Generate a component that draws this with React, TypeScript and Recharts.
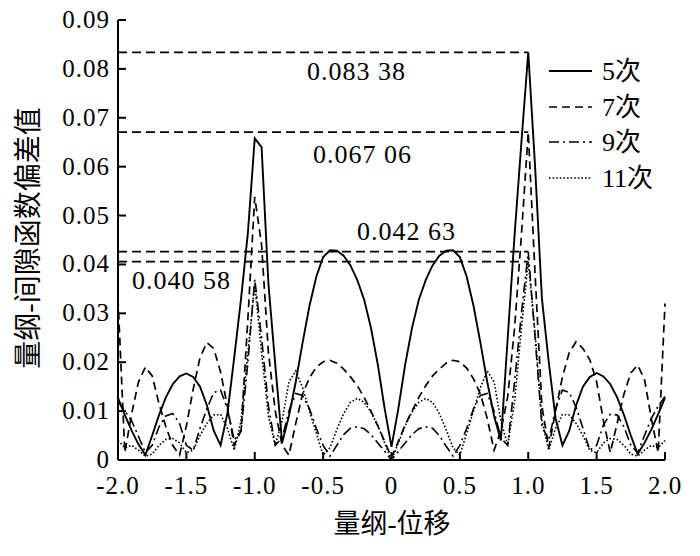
import React from "react";
import { LineChart, Line, XAxis, YAxis, ReferenceLine } from "recharts";

const X = [
  -2.0, -1.95, -1.9, -1.85, -1.8, -1.75, -1.7, -1.65, -1.6, -1.55,
  -1.5, -1.45, -1.4, -1.35, -1.3, -1.25, -1.2, -1.15, -1.1, -1.05,
  -1.0, -0.95, -0.9, -0.85, -0.8, -0.75, -0.7, -0.65, -0.6, -0.55,
  -0.5, -0.45, -0.4, -0.35, -0.3, -0.25, -0.2, -0.15, -0.1, -0.05,
  0.0,
  0.05, 0.1, 0.15, 0.2, 0.25, 0.3, 0.35, 0.4, 0.45, 0.5,
  0.55, 0.6, 0.65, 0.7, 0.75, 0.8, 0.85, 0.9, 0.95, 1.0,
  1.05, 1.1, 1.15, 1.2, 1.25, 1.3, 1.35, 1.4, 1.45, 1.5,
  1.55, 1.6, 1.65, 1.7, 1.75, 1.8, 1.85, 1.9, 1.95, 2.0,
];

const S5 = [
  0.0127, 0.0092, 0.006, 0.0032, 0.001, 0.005, 0.0092, 0.0128, 0.0155, 0.0171,
  0.0177, 0.017, 0.015, 0.0112, 0.006, 0.003, 0.0095, 0.021, 0.033, 0.0465,
  0.0658, 0.064, 0.036, 0.0195, 0.0035, 0.009, 0.016, 0.024, 0.0315, 0.0375,
  0.0415, 0.0429, 0.0428, 0.0418, 0.0398, 0.0368, 0.0328, 0.027, 0.0195, 0.0105,
  0.0027,
  0.0105, 0.0195, 0.027, 0.0328, 0.0368, 0.0398, 0.0418, 0.0428, 0.0429, 0.0415,
  0.0375, 0.0315, 0.024, 0.016, 0.009, 0.004, 0.025, 0.046, 0.065, 0.08338,
  0.06, 0.033, 0.02, 0.0085, 0.003, 0.006, 0.0112, 0.015, 0.017, 0.0178,
  0.0171, 0.0155, 0.0128, 0.0092, 0.005, 0.0012, 0.0035, 0.0062, 0.0094, 0.0127,
];

const S7 = [
  0.033, 0.0015, 0.0095, 0.016, 0.019, 0.0172, 0.0115, 0.0068, 0.003, 0.001,
  0.007, 0.0145, 0.021, 0.024, 0.0228, 0.018, 0.011, 0.003, 0.006, 0.029,
  0.0538, 0.044, 0.022, 0.01, 0.003, 0.001, 0.0075, 0.0135, 0.0168, 0.019,
  0.0201, 0.0204, 0.0198, 0.0186, 0.017, 0.0152, 0.0128, 0.01, 0.007, 0.0038,
  0.0005,
  0.0038, 0.0072, 0.01, 0.0128, 0.0152, 0.0172, 0.0186, 0.0198, 0.0204, 0.0201,
  0.0188, 0.0166, 0.0135, 0.0085, 0.002, 0.006, 0.013, 0.027, 0.046, 0.06706,
  0.038, 0.011, 0.0025, 0.01, 0.017, 0.022, 0.0242, 0.0228, 0.0205, 0.016,
  0.008, 0.0015, 0.0075, 0.0135, 0.0178, 0.0194, 0.0165, 0.0085, 0.0015, 0.032,
];

const S9 = [
  0.012, 0.01, 0.008, 0.0048, 0.0015, 0.003, 0.0068, 0.009, 0.0095, 0.0075,
  0.003, 0.002, 0.0065, 0.0105, 0.0138, 0.0143, 0.0105, 0.004, 0.006, 0.02,
  0.037, 0.025, 0.011, 0.003, 0.0045, 0.01, 0.0136, 0.0132, 0.0105, 0.0065,
  0.003, 0.0008, 0.003, 0.0052, 0.0065, 0.0068, 0.0064, 0.0052, 0.0035, 0.0018,
  0.0,
  0.0018, 0.0035, 0.0052, 0.0064, 0.0068, 0.0065, 0.005, 0.0028, 0.0008, 0.003,
  0.0065, 0.0105, 0.0132, 0.0136, 0.01, 0.0045, 0.003, 0.016, 0.03, 0.04263,
  0.025, 0.007, 0.004, 0.0105, 0.0143, 0.0138, 0.0108, 0.0065, 0.002, 0.003,
  0.0072, 0.0094, 0.0092, 0.0068, 0.003, 0.0015, 0.005, 0.0085, 0.011, 0.013,
];

const S11 = [
  0.004, 0.0025, 0.003, 0.002, 0.0008, 0.0012, 0.003, 0.0042, 0.0044, 0.0035,
  0.0015, 0.002, 0.005, 0.0075, 0.0092, 0.0093, 0.0065, 0.002, 0.008, 0.022,
  0.036, 0.022, 0.009, 0.003, 0.008, 0.016, 0.0182, 0.0148, 0.01, 0.0055,
  0.001, 0.0025, 0.0062, 0.0095, 0.0118, 0.0126, 0.0118, 0.0098, 0.007, 0.0035,
  0.0,
  0.0035, 0.007, 0.0098, 0.0118, 0.0126, 0.0118, 0.0095, 0.0062, 0.0025, 0.001,
  0.0055, 0.01, 0.0148, 0.0182, 0.016, 0.008, 0.003, 0.012, 0.027, 0.04058,
  0.026, 0.008, 0.002, 0.0065, 0.0093, 0.0092, 0.0075, 0.005, 0.002, 0.0015,
  0.0035, 0.0044, 0.0042, 0.003, 0.0012, 0.0008, 0.002, 0.003, 0.0025, 0.004,
];

const X_TICKS = [-2, -1.5, -1, -0.5, 0, 0.5, 1, 1.5, 2];
const X_TICK_LABELS = ["-2.0", "-1.5", "-1.0", "-0.5", "0", "0.5", "1.0", "1.5", "2.0"];
const Y_TICKS = [0, 0.01, 0.02, 0.03, 0.04, 0.05, 0.06, 0.07, 0.08, 0.09];
const Y_TICK_LABELS = ["0", "0.01", "0.02", "0.03", "0.04", "0.05", "0.06", "0.07", "0.08", "0.09"];

const REF_VALUES = [0.08338, 0.06706, 0.04263, 0.04058];
const REF_END_X = 1.0;
const REF_LABELS = ["0.083 38", "0.067 06", "0.042 63", "0.040 58"];
const SERIES_NAMES = ["5次", "7次", "9次", "11次"];

const X_LABEL = "量纲-位移";
const Y_LABEL = "量纲-间隙函数偏差值";

const SERIF = '"Liberation Serif", "Times New Roman", "Noto Sans CJK SC", serif';

const data = X.map((x, i) => ({ x, s5: S5[i], s7: S7[i], s9: S9[i], s11: S11[i] }));

const DASHES = ["", "8 5", "10 4 2 4", "1.6 2"];
const WIDTHS = [1.9, 1.7, 1.6, 1.6];
const KEYS = ["s5", "s7", "s9", "s11"];

const YTick = (props: any) => {
  const { x, y, payload } = props;
  const label = Y_TICK_LABELS[Y_TICKS.indexOf(payload.value)];
  return (
    <g>
      <line x1={x} x2={x + 8} y1={y} y2={y} stroke="#000" strokeWidth={2} />
      <text x={x - 8} y={y + 8} textAnchor="end" fontSize={25} fontFamily={SERIF} fill="#000" letterSpacing={1}>
        {label}
      </text>
    </g>
  );
};

const XTick = (props: any) => {
  const { x, y, payload } = props;
  const label = X_TICK_LABELS[X_TICKS.indexOf(payload.value)];
  return (
    <g>
      <line x1={x} x2={x} y1={y} y2={y - 8} stroke="#000" strokeWidth={2} />
      <text x={x} y={y + 34} textAnchor="middle" fontSize={25} fontFamily={SERIF} fill="#000" letterSpacing={1}>
        {label}
      </text>
    </g>
  );
};

const ANN_POS = [
  { x: 307, y: 80 },
  { x: 313, y: 163 },
  { x: 357, y: 240 },
  { x: 132, y: 289 },
];

const LEG_ROWS = [71, 107, 142, 178];

export default function App() {
  return (
    <div style={{ position: "absolute", left: 0, top: 0, width: 700, height: 556, background: "#fff" }}>
      <LineChart
        width={700}
        height={556}
        data={data}
        margin={{ top: 20, right: 35, bottom: 56, left: 58 }}
      >
        <XAxis
          dataKey="x"
          type="number"
          domain={[-2, 2]}
          ticks={X_TICKS}
          height={40}
          tickSize={0}
          tickMargin={0}
          tickLine={false}
          axisLine={{ stroke: "#000", strokeWidth: 2 }}
          tick={<XTick />}
          interval={0}
        />
        <YAxis
          type="number"
          domain={[0, 0.09]}
          ticks={Y_TICKS}
          width={60}
          tickSize={0}
          tickMargin={0}
          tickLine={false}
          axisLine={{ stroke: "#000", strokeWidth: 2 }}
          tick={<YTick />}
          interval={0}
        />
        {REF_VALUES.map((v, i) => (
          <ReferenceLine
            key={"r" + i}
            segment={[{ x: -2, y: v }, { x: REF_END_X, y: v }]}
            stroke="#000"
            strokeWidth={1.6}
            strokeDasharray="9 5"
          />
        ))}
        {KEYS.map((k, i) => (
          <Line
            key={k}
            type="linear"
            dataKey={k}
            stroke="#000"
            strokeWidth={WIDTHS[i]}
            strokeDasharray={DASHES[i] || undefined}
            dot={false}
            activeDot={false}
            isAnimationActive={false}
          />
        ))}
      </LineChart>
      <svg
        width={700}
        height={556}
        style={{ position: "absolute", left: 0, top: 0, pointerEvents: "none" }}
      >
        {REF_LABELS.map((t, i) => (
          <text
            key={"a" + i}
            x={ANN_POS[i].x}
            y={ANN_POS[i].y}
            fontSize={26}
            fontFamily={SERIF}
            fill="#000"
            letterSpacing={1}
            style={{ whiteSpace: "pre" }}
          >
            {t}
          </text>
        ))}
        {SERIES_NAMES.map((n, i) => (
          <g key={"l" + i}>
            <line
              x1={549}
              x2={592}
              y1={LEG_ROWS[i]}
              y2={LEG_ROWS[i]}
              stroke="#000"
              strokeWidth={WIDTHS[i]}
              strokeDasharray={DASHES[i] || undefined}
            />
            <text x={602} y={LEG_ROWS[i] + 9} fontSize={26} fontFamily={SERIF} fill="#000">
              {n}
            </text>
          </g>
        ))}
        <text x={392} y={533} textAnchor="middle" fontSize={27} fontFamily={SERIF} fill="#000">
          {X_LABEL}
        </text>
        <text
          x={28}
          y={238}
          textAnchor="middle"
          dominantBaseline="central"
          fontSize={28}
          fontFamily={SERIF}
          fill="#000"
          transform="rotate(-90 28 238)"
        >
          {Y_LABEL}
        </text>
      </svg>
    </div>
  );
}
